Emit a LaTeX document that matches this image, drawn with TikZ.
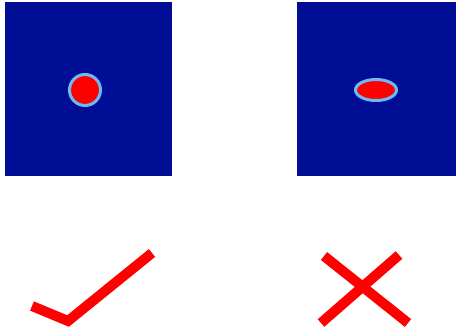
\documentclass[tikz,border=0pt]{standalone}
\definecolor{deepblue}{RGB}{0,14,150}
\definecolor{ringblue}{RGB}{110,185,240}
\definecolor{markred}{RGB}{255,0,0}
\tikzset{
  panel/.style={fill=deepblue},
  ring/.style={fill=markred, draw=ringblue, line width=3pt},
  markstroke/.style={draw=markred, line width=10pt}
}
\begin{document}
\begin{tikzpicture}[x=1pt,y=-1pt]
\useasboundingbox (0,0) rectangle (457,334);
% left panel
\fill[panel] (5,2) rectangle (172,176);
\draw[ring] (85,90) circle (15.5);
% right panel
\fill[panel] (297,2) rectangle (456,176);
\draw[ring] (376,90) ellipse (20.5 and 10.5);
% check mark
\coordinate (c1) at (32,306);
\coordinate (c2) at (68,321);
\coordinate (c3) at (152,253);
\draw[markstroke, line join=miter] (c1) -- (c2) -- (c3);
% cross
\coordinate (x1) at (324,256);
\coordinate (x2) at (408,323);
\coordinate (x3) at (399,255);
\coordinate (x4) at (321,323);
\draw[markstroke] (x1) -- (x2);
\draw[markstroke] (x3) -- (x4);
\end{tikzpicture}
\end{document}
